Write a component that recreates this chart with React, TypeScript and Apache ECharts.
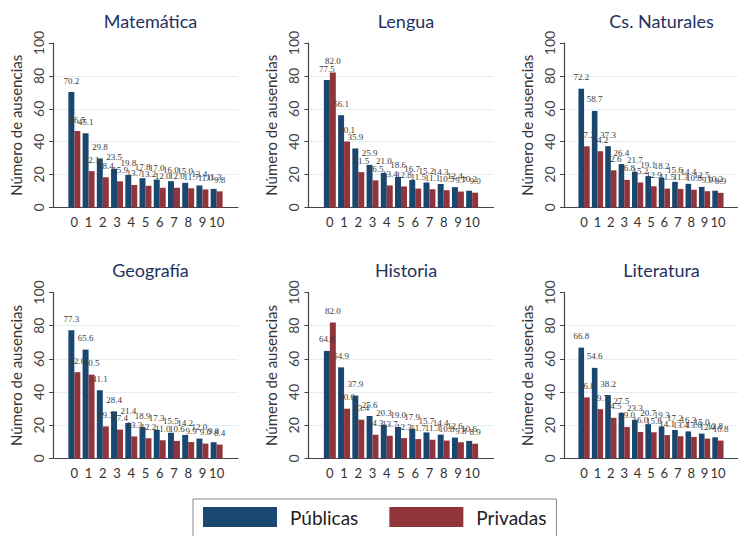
import React, { useEffect, useRef } from "react";
import * as echarts from "echarts";

const categories = ["0", "1", "2", "3", "4", "5", "6", "7", "8", "9", "10"];
const subjects = ["Matemática", "Lengua", "Cs. Naturales", "Geografía", "Historia", "Literatura"];
const legendNames = ["Públicas", "Privadas"];

const matematicaPub = [70.2, 45.1, 29.8, 23.5, 19.8, 17.8, 17.0, 16.0, 15.0, 13.4, 11.3];
const matematicaPriv = [46.5, 22.1, 18.4, 15.9, 13.7, 13.2, 12.0, 12.0, 11.7, 11.0, 9.8];
const lenguaPub = [77.5, 56.1, 35.9, 25.9, 21.0, 18.6, 16.7, 15.2, 14.3, 12.4, 10.2];
const lenguaPriv = [82.0, 40.1, 21.5, 16.5, 13.4, 12.8, 11.5, 11.1, 10.5, 9.7, 9.0];
const naturalesPub = [72.2, 58.7, 37.3, 26.4, 21.7, 19.1, 18.2, 15.6, 14.4, 12.5, 10.2];
const naturalesPriv = [37.2, 34.2, 22.6, 16.8, 15.2, 12.9, 11.5, 11.3, 10.8, 9.9, 8.9];
const geografiaPub = [77.3, 65.6, 41.1, 28.4, 21.4, 18.9, 17.3, 15.5, 14.2, 12.0, 9.8];
const geografiaPriv = [52.0, 50.5, 19.3, 17.4, 13.3, 12.2, 11.0, 10.6, 9.9, 9.0, 8.4];
const historiaPub = [64.8, 54.9, 37.9, 25.6, 20.3, 19.0, 17.9, 15.7, 14.4, 12.6, 10.6];
const historiaPriv = [82.0, 30.0, 23.4, 14.3, 13.7, 12.3, 11.7, 11.3, 10.8, 9.8, 8.9];
const literaturaPub = [66.8, 54.6, 38.2, 27.5, 23.3, 20.7, 19.3, 17.2, 16.3, 15.0, 12.8];
const literaturaPriv = [36.8, 29.7, 24.5, 19.0, 16.0, 15.8, 14.1, 13.4, 13.0, 12.0, 10.8];

const yTicks = [0, 20, 40, 60, 80, 100];

const pubSeries = [matematicaPub, lenguaPub, naturalesPub, geografiaPub, historiaPub, literaturaPub];
const privSeries = [matematicaPriv, lenguaPriv, naturalesPriv, geografiaPriv, historiaPriv, literaturaPriv];

const NAVY = "#1a476f";
const MAROON = "#90353b";
const GRID = "#e6eef1";

export default function App() {
  const ref = useRef<HTMLDivElement>(null);
  useEffect(() => {
    if (!ref.current) return;
    const chart = echarts.init(ref.current, null, { renderer: "svg" });
    const colLeft = [53, 308.5, 564];
    const rowTop = [43, 292.5];
    const rowH = [164.5, 166];
    const gridW = 185;
    const padded = ["", ...categories, ""];
    const pad = (arr: number[]) => [null, ...arr, null];
    const makeLabel = () => ({
      show: true,
      position: "top",
      distance: 7,
      fontFamily: "Liberation Serif",
      fontSize: 9,
      color: "#3a3a3a",
      textBorderWidth: 0,
      formatter: (p: any) => (p.value == null ? "" : Number(p.value).toFixed(1)),
    });

    const grids: any[] = [];
    const xAxes: any[] = [];
    const yAxes: any[] = [];
    const series: any[] = [];
    const titles: any[] = [];

    subjects.forEach((subj, i) => {
      const r = Math.floor(i / 3);
      const c = i % 3;
      grids.push({ left: colLeft[c], top: rowTop[r], width: gridW, height: rowH[r], containLabel: false });
      titles.push({
        text: subj,
        left: colLeft[c] + gridW / 2,
        top: r === 0 ? 7 : 256,
        textAlign: "center",
        textStyle: { fontFamily: "Lato", fontSize: 18, fontWeight: "normal", color: "#1f3260" },
      });
      xAxes.push({
        type: "category",
        gridIndex: i,
        data: padded,
        axisTick: { show: false },
        axisLine: { lineStyle: { color: "#444", width: 1.2 } },
        axisLabel: { interval: 0, fontFamily: "Lato", fontSize: 13, color: "#333", margin: 8 },
      });
      yAxes.push({
        type: "value",
        gridIndex: i,
        min: yTicks[0],
        max: yTicks[yTicks.length - 1],
        interval: 20,
        name: "Número de ausencias",
        nameLocation: "middle",
        nameGap: 30,
        nameTextStyle: { fontFamily: "Lato", fontSize: 15, color: "#333" },
        axisLine: { show: true, lineStyle: { color: "#444", width: 1.2 } },
        axisTick: { show: true, length: 4, lineStyle: { color: "#444" } },
        axisLabel: { rotate: 90, fontFamily: "Lato", fontSize: 14, color: "#444", margin: 8 },
        splitLine: {
          show: true,
          lineStyle: { color: ["rgba(0,0,0,0)", GRID, GRID, GRID, GRID, "rgba(0,0,0,0)"], width: 1 },
        },
      });
      series.push({
        type: "bar",
        name: legendNames[0],
        xAxisIndex: i,
        yAxisIndex: i,
        data: pad(pubSeries[i]),
        itemStyle: { color: NAVY },
        barGap: "0%",
        barCategoryGap: "16%",
        label: makeLabel(),
      });
      series.push({
        type: "bar",
        name: legendNames[1],
        xAxisIndex: i,
        yAxisIndex: i,
        data: pad(privSeries[i]),
        itemStyle: { color: MAROON },
        barGap: "0%",
        barCategoryGap: "16%",
        label: makeLabel(),
      });
    });

    chart.setOption({
      animation: false,
      backgroundColor: "#ffffff",
      title: titles,
      grid: grids,
      xAxis: xAxes,
      yAxis: yAxes,
      series,
      legend: {
        data: legendNames,
        left: 193,
        top: 499,
        orient: "horizontal",
        icon: "rect",
        itemWidth: 74,
        itemHeight: 20,
        itemGap: 31,
        padding: [8, 10, 10, 10],
        borderColor: "#888",
        borderWidth: 1,
        selectedMode: false,
        textStyle: { fontFamily: "Lato", fontSize: 19, color: "#222", padding: [0, 0, 0, 8] },
      },
    });
    return () => chart.dispose();
  }, []);
  return (
    <div
      ref={ref}
      style={{ position: "absolute", left: 0, top: 0, width: 738, height: 536, background: "#fff" }}
    />
  );
}
